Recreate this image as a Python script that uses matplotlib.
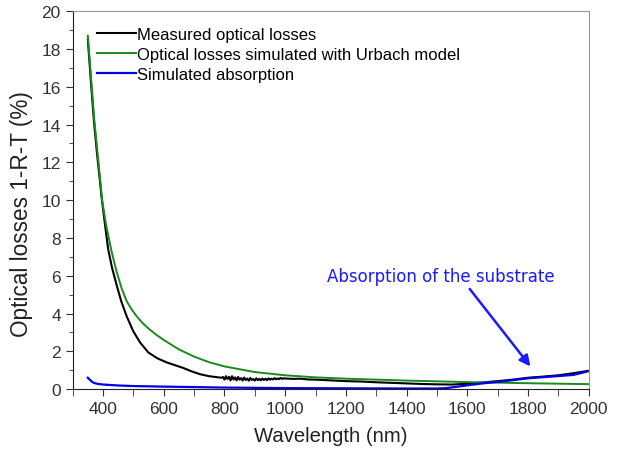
import numpy as np
import matplotlib
matplotlib.use("Agg")
import matplotlib.pyplot as plt

plt.rcParams['font.family'] = ['Liberation Sans', 'DejaVu Sans']

# measured optical losses (nm, %); noisy part near 800-1000 nm typed point by point
wl_meas = [350, 360, 370, 380, 390, 395, 405, 417, 430, 445, 460, 478, 500, 522, 549, 580, 610, 640,
           664, 690, 719, 750, 775, 790,
           795, 800, 805, 810, 815, 820, 825, 830, 835, 840, 845, 850, 855, 860, 865, 870, 875, 880,
           885, 890, 895, 900, 905, 910, 915, 920, 925, 930, 935, 940, 945, 950, 955, 960, 965, 970,
           975, 980, 985, 990, 995, 1000,
           1025, 1050, 1075, 1100, 1150, 1200, 1250, 1300, 1350, 1400, 1450, 1500, 1550, 1600,
           1650, 1700, 1750, 1800, 1850, 1900, 1950, 2000]
meas = [18.5, 16.3, 14.2, 12.5, 11.0, 10.2, 8.9, 7.4, 6.4, 5.5, 4.65, 3.85, 3.05, 2.47, 1.94, 1.62, 1.41,
        1.25, 1.12, 0.95, 0.79, 0.68, 0.63, 0.6,
        0.64, 0.5, 0.68, 0.53, 0.65, 0.46, 0.68, 0.5, 0.62, 0.46, 0.64, 0.5, 0.58, 0.45, 0.61, 0.48, 0.56,
        0.44, 0.59, 0.48, 0.53, 0.45, 0.57, 0.47, 0.54, 0.46, 0.56, 0.48, 0.55, 0.47, 0.57, 0.5, 0.55,
        0.51, 0.58, 0.52, 0.56, 0.53, 0.59, 0.54, 0.57, 0.56,
        0.54, 0.55, 0.51, 0.5, 0.46, 0.42, 0.4, 0.36, 0.33, 0.3, 0.27, 0.25, 0.24, 0.28,
        0.35, 0.42, 0.5, 0.6, 0.66, 0.73, 0.84, 0.97]

# Urbach model curve
wl_sim = [350, 360, 371, 385, 397, 410, 428, 445, 461, 478, 495, 511, 530, 550, 575, 600, 650, 700,
          750, 800, 900, 1000, 1100, 1200, 1400, 1600, 1800, 2000]
urbach = [18.7, 16.6, 14.3, 12.0, 10.0, 8.7, 7.3, 6.2, 5.35, 4.65, 4.2, 3.85, 3.5, 3.2, 2.88, 2.6, 2.1,
          1.72, 1.42, 1.2, 0.9, 0.73, 0.62, 0.55, 0.45, 0.37, 0.31, 0.26]

# simulated absorption
wl_abs = [350, 358, 366, 375, 385, 400, 450, 500, 600, 800, 1000, 1200, 1400, 1500, 1530, 1560, 1600,
          1650, 1700, 1750, 1800, 1850, 1900, 1950, 2000]
absorp = [0.6, 0.47, 0.36, 0.3, 0.27, 0.24, 0.19, 0.16, 0.13, 0.08, 0.05, 0.04, 0.03, 0.03, 0.05, 0.11,
          0.2, 0.3, 0.38, 0.47, 0.57, 0.63, 0.69, 0.75, 0.95]

fig = plt.figure(figsize=(6.21, 4.52), dpi=100)
ax = fig.add_axes([0.117, 0.137, 0.831, 0.836])

ax.plot(wl_meas, meas, color='black', lw=1.5, label='Measured optical losses')
ax.plot(wl_sim, urbach, color='#1a8a1a', lw=1.4, label='Optical losses simulated with Urbach model')
ax.plot(wl_abs, absorp, color='#0000ee', lw=1.6, label='Simulated absorption')

ax.set_xlim(300, 2000)
ax.set_ylim(0, 20)
ax.set_xticks(np.arange(400, 2001, 200))
ax.set_xticks(np.arange(300, 2001, 100), minor=True)
ax.set_yticks(np.arange(0, 21, 2))
ax.set_yticks(np.arange(1, 20, 2), minor=True)
ax.tick_params(which='major', direction='out', length=5, labelsize=12.5, colors='#333333',
               labelcolor='#333333')
ax.tick_params(which='minor', direction='out', length=3, colors='#333333')
ax.tick_params(axis='x', which='minor', length=5)

for s in ['top', 'right']:
    ax.spines[s].set_color('#999999')
for s in ['left', 'bottom']:
    ax.spines[s].set_color('#222222')

ax.set_xlabel('Wavelength (nm)', fontsize=14.6, color='#222222', labelpad=7)
ax.set_ylabel('Optical losses 1-R-T (%)', fontsize=16.3, color='#222222')
ax.yaxis.set_label_coords(-0.077, 0.466)

ax.legend(loc='upper left', bbox_to_anchor=(0.035, 0.975), frameon=False, fontsize=12,
          handlelength=2.3, handletextpad=0.05, labelspacing=0.28, borderaxespad=0)

ax.text(1512, 6.0, 'Absorption of the substrate', color='#1a1aff', fontsize=12,
        family='DejaVu Sans', ha='center', va='center')
ax.annotate('', xy=(1808, 1.2), xytext=(1608, 5.3),
            arrowprops=dict(arrowstyle='-|>', color='#1a1aff', lw=1.8, mutation_scale=16,
                            shrinkA=0, shrinkB=0))

fig.savefig('out.png', dpi=100)
